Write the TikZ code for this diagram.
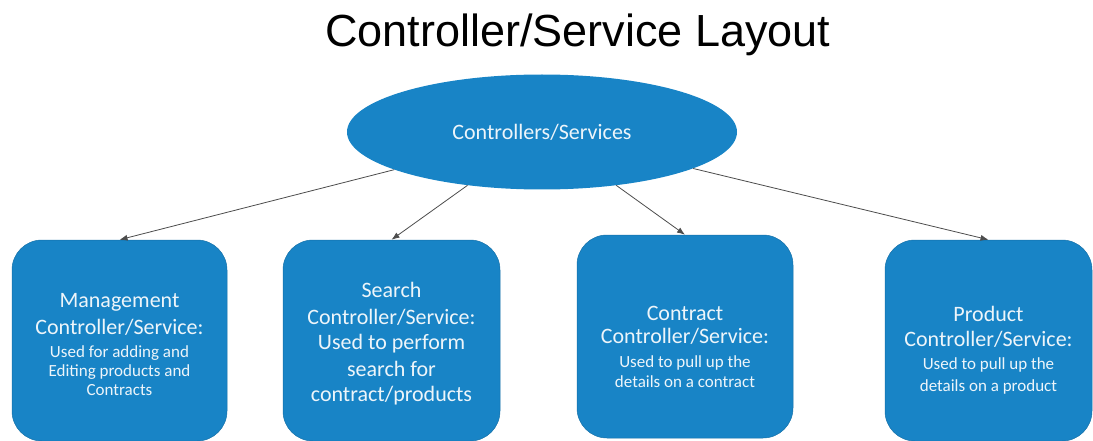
\documentclass[tikz,border=0pt]{standalone}
\usepackage{fontspec}
\setmainfont{Liberation Sans}
\newfontfamily\boxfont{Carlito}
\usetikzlibrary{shapes.geometric,arrows.meta}
\definecolor{ctrlblue}{RGB}{24,132,198}
\newcommand{\headsize}{\fontsize{22}{27}\selectfont}
\newcommand{\notesize}{\fontsize{17}{19}\selectfont}

\begin{document}
\begin{tikzpicture}[x=1pt,y=-1pt,
    service/.style={rectangle, rounded corners=30pt, fill=ctrlblue, draw=ctrlblue!85!black,
      line width=0.5pt, text=white!92!ctrlblue, align=center, font=\boxfont\headsize, inner sep=0pt},
    link/.style={draw=black!70, line width=0.8pt, -{Latex[length=8pt,width=6pt]}}]
  \useasboundingbox (0,0) rectangle (1093,441);

  % Title above everything
  \node [anchor=base] (title) at (578,47) {\fontsize{45}{54}\selectfont Controller/Service Layout};

  % The root ellipse
  \node [ellipse, fill=ctrlblue, minimum width=390pt, minimum height=115pt, inner sep=0pt,
    text=white!92!ctrlblue, font=\boxfont\headsize] (hub) at (542,132) {Controllers/Services};

  % The four controller boxes (empty first line pushes the text down a bit)
  \node [service, minimum width=215pt, minimum height=201pt] (mgmt) at (119.5,340.5)
    {\mbox{}\\[-4pt] Management\\ Controller/Service:\\[-4pt]
     \notesize Used for adding and\\[-8pt] \notesize Editing products and\\[-8pt] \notesize Contracts};
  \node [service, minimum width=217pt, minimum height=201pt] (search) at (391.5,340.5)
    {\mbox{}\\[-5pt] Search\\ Controller/Service:\\[-2pt] Used to perform\\ search for\\[-2pt] contract/products};
  \node [service, minimum width=216pt, minimum height=203pt] (contract) at (685,336.5)
    {\mbox{}\\[8pt] Contract\\[-4pt] Controller/Service:\\[-3pt]
     \notesize Used to pull up the\\[-7pt] \notesize details on a contract};
  \node [service, minimum width=207pt, minimum height=201pt] (product) at (988.5,340.5)
    {\mbox{}\\[8pt] Product\\[-2pt] Controller/Service:\\[-4pt]
     \notesize Used to pull up the\\[-5pt] \notesize details on a product};

  % Connect the root to each box
  \foreach \b in {mgmt,search,contract,product} {
    \draw [link] (hub) -- (\b.north);
  }
\end{tikzpicture}
\end{document}
